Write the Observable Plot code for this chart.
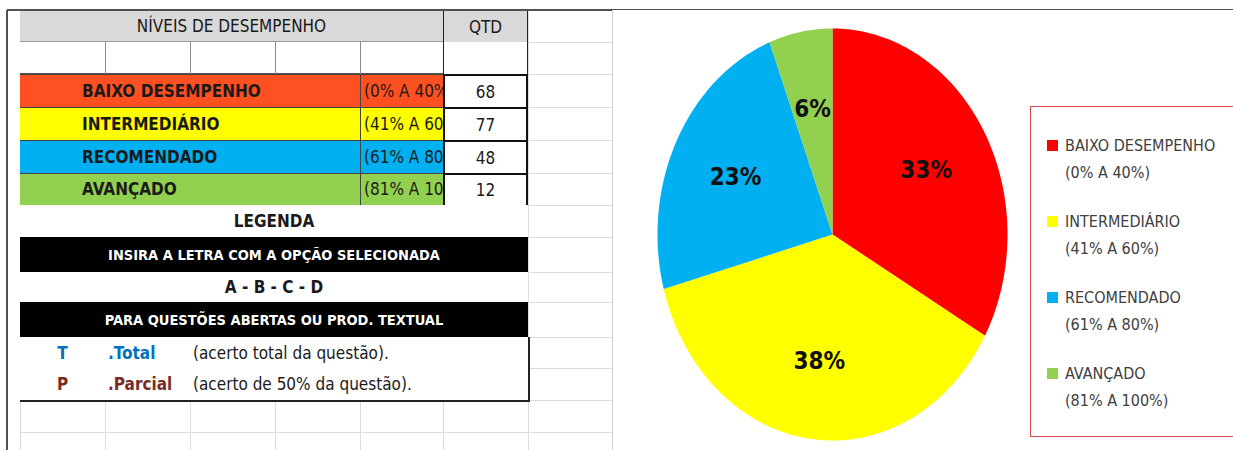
<!DOCTYPE html>
<html><head><meta charset="utf-8">
<script src="https://cdn.jsdelivr.net/npm/d3@7"></script>
<script src="https://cdn.jsdelivr.net/npm/@observablehq/plot@0.6"></script>
<style>
body{margin:0;background:#fff;}
#root{position:relative;width:1233px;height:450px;overflow:hidden;background:#fff;
  font-family:"Liberation Sans Narrow","DejaVu Sans Condensed","Open Sans",sans-serif;color:#1a1a1a;}
</style></head>
<body><div id="root"></div>
<script>
// ---- data ----
const categories = ["BAIXO DESEMPENHO","INTERMEDIÁRIO","RECOMENDADO","AVANÇADO"];
const ranges = ["(0% A 40%)","(41% A 60%)","(61% A 80%)","(81% A 100%)"];
const quantities = [68,77,48,12];
const pieColors = ["#FF0000","#FFFF00","#00B0F0","#92D050"];
const rowColors = ["#FF5022","#FFFF00","#00B0F0","#92D050"];
const headerTitle = "NÍVEIS DE DESEMPENHO";
const qtdTitle = "QTD";
const legendTitle = "LEGENDA";
const instruction1 = "INSIRA A LETRA COM A OPÇÃO SELECIONADA";
const options = "A - B - C - D";
const instruction2 = "PARA QUESTÕES ABERTAS OU PROD. TEXTUAL";
const codes = ["T","P"];
const codeNames = [".Total",".Parcial"];
const codeDescs = ["(acerto total da questão).","(acerto de 50% da questão)."];
const codeColors = ["#0070C0","#7B2A22"];

// ---- helpers ----
const root = document.getElementById("root");
function rect(x,y,w,h,st={}){const d=document.createElement("div");
  Object.assign(d.style,{position:"absolute",left:x+"px",top:y+"px",width:w+"px",height:h+"px",boxSizing:"border-box"},st);
  root.appendChild(d);return d;}
function label(x,y,w,h,text,st={}){const d=rect(x,y,w,h,Object.assign({display:"flex",alignItems:"center",whiteSpace:"pre",overflow:"hidden",fontSize:"17px"},st));d.textContent=text;return d;}

// ---- spreadsheet grid ----
const cols=[20,105,190,275,360,443,528,612];
const rows=[10,42,74,107,140,173,205,237,272,302,337,368,400,432];
const grid="#DCDCDC";
rows.slice(1).forEach(y=>rect(20,y,592,1,{background:grid}));
cols.forEach(x=>rect(x,10,1,440,{background:grid}));

// header
label(20,10,423,32,headerTitle,{background:"#D9D9D9",justifyContent:"center",borderBottom:"1px solid #9a9a9a"});
label(443,10,85,33,qtdTitle,{background:"#D9D9D9",justifyContent:"center",border:"1.5px solid #222"});
// row 2
rect(20,42,423,32,{background:"#fff",borderBottom:"1px solid #555"});
[105,190,275,360].forEach(x=>rect(x,42,1,32,{background:"#8a8a8a"}));
rect(443,42,85,33,{background:"#fff",borderLeft:"1.5px solid #222",borderRight:"1.5px solid #222"});

// coloured rows (range text is clipped by its cell, as in the spreadsheet)
categories.forEach((c,i)=>{
  const y=rows[2+i], h=rows[3+i]-rows[2+i];
  rect(20,y,423,h+1,{background:rowColors[i],borderTop:"1px solid #444",borderBottom:"1px solid #444"});
  label(82,y,270,h,c,{fontWeight:"bold"});
  rect(360,y,1,h,{background:"#444"});
  label(364,y,79,h,ranges[i],{});
  label(443,y,85,h+2,String(quantities[i]),{background:"#fff",justifyContent:"center",border:"2px solid #111"});
});

// legend block
label(20,205,508,32,legendTitle,{background:"#fff",justifyContent:"center",fontWeight:"bold"});
label(20,237,508,35,instruction1,{background:"#000",color:"#fff",justifyContent:"center",fontWeight:"bold",fontSize:"14.5px"});
label(20,272,508,30,options,{background:"#fff",justifyContent:"center",fontWeight:"bold"});
label(20,302,508,35,instruction2,{background:"#000",color:"#fff",justifyContent:"center",fontWeight:"bold",fontSize:"14.5px"});
rect(20,337,510,65,{background:"#fff",borderRight:"2px solid #222",borderBottom:"2px solid #222"});
codes.forEach((c,i)=>{
  const y=rows[10+i], h=rows[11+i]-rows[10+i];
  label(50,y,25,h,c,{fontWeight:"bold",color:codeColors[i],justifyContent:"center"});
  label(108,y,85,h,codeNames[i],{fontWeight:"bold",color:codeColors[i]});
  label(193,y,300,h,codeDescs[i],{});
});

// frame lines
rect(7,9,1226,2,{background:"#505050"});
rect(6,10,2,440,{background:"#505050"});
rect(612,10,621,440,{background:"#fff",borderLeft:"1px solid #CFCFCF"});

// ---- pie chart (Plot) ----
const total=d3.sum(quantities);
const arcs=d3.pie().sort(null).value(d=>d)(quantities);
const pts=[];
arcs.forEach((p,i)=>{
  pts.push({cat:categories[i],x:0,y:0});
  const n=Math.max(2,Math.ceil((p.endAngle-p.startAngle)/(Math.PI/180)));
  for(let k=0;k<=n;k++){const a=p.startAngle+(p.endAngle-p.startAngle)*k/n;pts.push({cat:categories[i],x:Math.sin(a),y:Math.cos(a)});}
});
const pieLabels=arcs.map((p,i)=>{const a=(p.startAngle+p.endAngle)/2;return {x:0.62*Math.sin(a),y:0.62*Math.cos(a),text:d3.format(".0%")(p.value/total)};});

const chart=Plot.plot({
  width:620,height:450,margin:0,
  style:{fontFamily:"'Liberation Sans Narrow','DejaVu Sans Condensed',sans-serif",background:"transparent"},
  x:{domain:[-1,1],range:[44,394],axis:null},
  y:{domain:[-1,1],range:[440,28],axis:null},
  color:{domain:categories,range:pieColors},
  marks:[
    Plot.line(pts,{x:"x",y:"y",z:"cat",fill:"cat",stroke:"none",curve:"linear-closed"}),
    Plot.text(pieLabels,{x:"x",y:"y",text:"text",fontSize:24,fontWeight:"bold",fill:"#111"})
  ]
});
Object.assign(chart.style,{position:"absolute",left:"613px",top:"0px"});
root.appendChild(chart);

// ---- chart legend ----
rect(1030,106,215,331,{border:"1.5px solid #D8484C",background:"transparent"});
categories.forEach((c,i)=>{
  const cy=145+i*76;
  rect(1047,cy-5,11,11,{background:pieColors[i]});
  const d=rect(1065,cy-13,170,56,{fontSize:"16px",lineHeight:"27px",color:"#404040",whiteSpace:"pre"});
  d.textContent=c+"\n"+ranges[i];
});
</script>
</body></html>
